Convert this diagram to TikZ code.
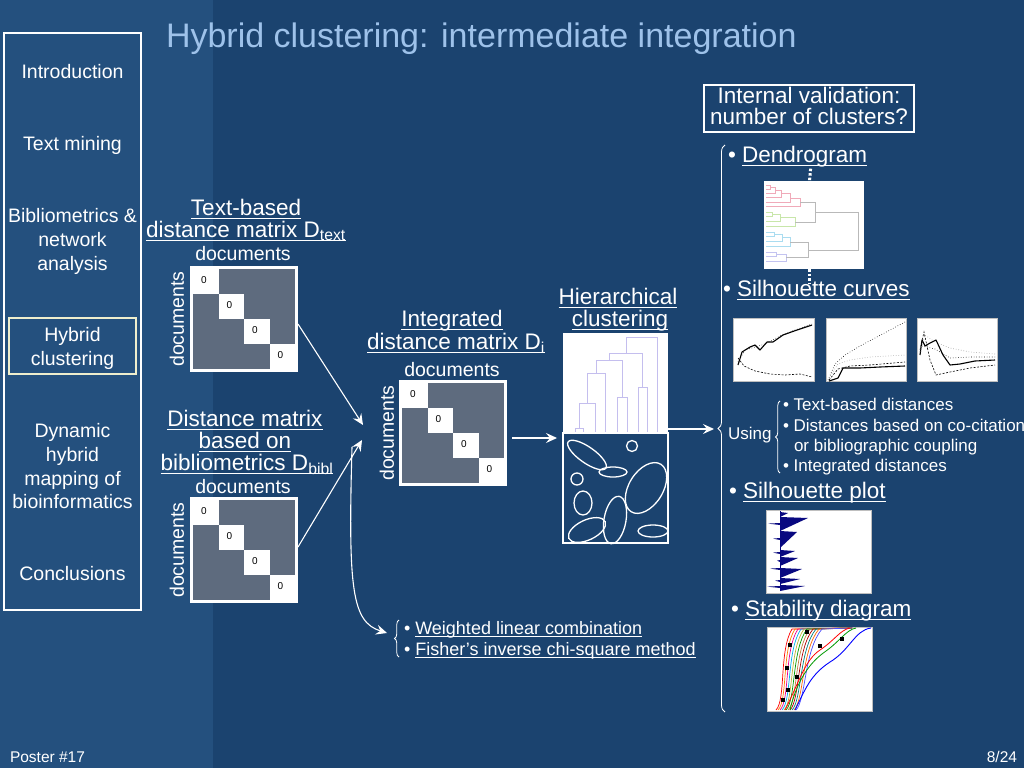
\documentclass[tikz,border=0pt]{standalone}
\usepackage{fontspec}
\setmainfont{Liberation Sans}
\usetikzlibrary{arrows.meta,decorations.pathreplacing}
\definecolor{bg}{RGB}{27,67,111}
\definecolor{bgl}{RGB}{36,80,126}
\definecolor{titlec}{RGB}{158,194,234}
\definecolor{cellgray}{RGB}{94,107,126}
\definecolor{dendc}{RGB}{196,190,238}
\definecolor{navyb}{RGB}{8,8,128}
\definecolor{cream}{RGB}{238,238,205}
\definecolor{dpink}{RGB}{240,170,185}
\definecolor{dgreen}{RGB}{200,230,170}
\definecolor{dcyan}{RGB}{170,220,240}
\definecolor{dlav}{RGB}{195,195,240}
\definecolor{dgray}{RGB}{185,185,185}
\newsavebox\ulbox
\newcommand\ul[1]{\sbox\ulbox{#1}\rlap{\rule[-0.17em]{\wd\ulbox}{0.05em}}\usebox\ulbox}
\newcommand\distmat[3]{%
  \node[matbox] (#1) at (#2,#3) {};
  \begin{scope}[shift={(#2,#3)}]
    \fill[cellgray] (3,3) rectangle (105,103);
    \foreach \i in {0,1,2,3}{
      \fill[white] ({3+\i*25.5},{3+\i*25}) rectangle ++(25.5,25);
      \node[zero] (#1z\i) at ({14+\i*25.5},{14+\i*25}) {0};
    }
  \end{scope}}
\begin{document}
\begin{tikzpicture}[x=1pt,y=-1pt,
  every node/.style={inner sep=0pt, outer sep=0pt, text=white},
  head/.style={font=\fontsize{22.5}{21.5}\selectfont, anchor=base},
  nav/.style={font=\fontsize{19.5}{24}\selectfont, anchor=base},
  docs/.style={font=\fontsize{19.5}{20}\selectfont},
  zero/.style={font=\fontsize{10}{10}\selectfont, text=black},
  matbox/.style={fill=white, minimum width=108pt, minimum height=106pt, anchor=north west},
  bul/.style={font=\fontsize{22.5}{24}\selectfont, anchor=base west},
  sm/.style={font=\fontsize{17}{20}\selectfont, anchor=base west},
  btm/.style={font=\fontsize{18}{22}\selectfont, anchor=base west},
  imgbox/.style={fill=white, draw=black!25, line width=0.5pt, anchor=north west},
  arr/.style={draw=white, line width=1.1pt, -{Stealth[length=11pt,width=10pt,inset=4pt]}},
  brc/.style={draw=white, line width=0.8pt, decorate, decoration={brace, amplitude=#1}},
  dotc/.style={draw=white, line width=3pt, dash pattern=on 2.5pt off 2pt},
  dl/.style={draw=dendc, line width=0.7pt},
  ell/.style={draw=white, line width=1.3pt},
  pthick/.style={draw=black, line width=1.1pt, line join=round},
  pdot/.style={draw=black, line width=0.6pt, dotted},
  pdash/.style={draw=black, line width=0.6pt, dash pattern=on 2pt off 1.5pt},
  pgray/.style={draw=black!40, line width=0.6pt, dotted},
  dd/.style={line width=0.5pt}
]
\useasboundingbox (0,0) rectangle (1024,768);
\fill[bg] (0,0) rectangle (1024,768);
\fill[bgl] (0,0) rectangle (213,768);

% title
\node[anchor=base west, text=titlec, font=\fontsize{34}{34}\selectfont] (title) at (166,48) {Hybrid clustering: intermediate integration};

% navigation
\node[draw=white, line width=1.5pt, minimum width=137pt, minimum height=577pt, anchor=north west] (navbox) at (4,33) {};
\node[draw=cream, line width=1.5pt, minimum width=127pt, minimum height=56pt, anchor=north west] (hybox) at (9,318) {};
\node[nav] (n1) at (72.5,78) {Introduction};
\node[nav] (n2) at (72.5,150) {Text mining};
\node[nav] (n3a) at (72.5,222) {Bibliometrics \&};
\node[nav] (n3b) at (72.5,246) {network};
\node[nav] (n3c) at (72.5,270) {analysis};
\node[nav] (n4a) at (72.5,341) {Hybrid};
\node[nav] (n4b) at (72.5,365) {clustering};
\node[nav] (n5a) at (72.5,437) {Dynamic};
\node[nav] (n5b) at (72.5,461) {hybrid};
\node[nav] (n5c) at (72.5,485) {mapping of};
\node[nav] (n5d) at (72.5,508) {bioinformatics};
\node[nav] (n6) at (72.5,580) {Conclusions};

% text-based matrix
\node[head] (h1a) at (246,215) {\ul{Text-based}};
\node[head] (h1b) at (246,237) {\ul{distance matrix D\textsubscript{text}}};
\node[docs, anchor=base] (d1h) at (243,260) {documents};
\node[docs, rotate=90] (d1v) at (177,319) {documents};
\distmat{dtext}{190}{266}

% bibliometric matrix
\node[head] (h2a) at (245,426) {\ul{Distance matrix}};
\node[head] (h2b) at (245,448) {\ul{based on}};
\node[head] (h2c) at (247,470) {\ul{bibliometrics D\textsubscript{bibl}}};
\node[docs, anchor=base] (d2h) at (243,493) {documents};
\node[docs, rotate=90] (d2v) at (177,550) {documents};
\distmat{dbibl}{190}{497}

% integrated matrix
\node[head] (h3a) at (452,326) {\ul{Integrated}};
\node[head] (h3b) at (456,349) {\ul{distance matrix D\textsubscript{i}}};
\node[docs, anchor=base] (d3h) at (452,376) {documents};
\node[docs, rotate=90] (d3v) at (387,433) {documents};
\distmat{dint}{399}{380}

% arrows into integrated matrix
\coordinate (jt) at (363,425);
\coordinate (jb) at (362,440);
\coordinate (cstart) at (352,447);
\coordinate (cend) at (387,633);
\draw[arr] ([yshift=-5pt]dtext.east) -- (jt);
\draw[arr] ([yshift=3pt]dbibl.east) -- (jb);
\draw[arr] (cstart) .. controls (348,590) and (352,622) .. (cend);

% hierarchical clustering
\node[head] (h4a) at (618,304) {\ul{Hierarchical}};
\node[head] (h4b) at (620,326) {\ul{clustering}};
\node[fill=white, minimum width=105pt, minimum height=100pt, anchor=north west] (dendro) at (563,333) {};
\draw[dl] (575,433) -- (575,428) -- (583,428) -- (583,433);
\draw[dl] (579,428) -- (579,403) -- (595,403) -- (595,433);
\draw[dl] (587,403) -- (587,373) -- (605,373) -- (605,433);
\draw[dl] (617,433) -- (617,397) -- (627,397) -- (627,433);
\draw[dl] (638,433) -- (638,387) -- (647,387) -- (647,433);
\draw[dl] (596,373) -- (596,360) -- (622,360) -- (622,397);
\draw[dl] (609,360) -- (609,353) -- (642.5,353) -- (642.5,387);
\draw[dl] (626,353) -- (626,337) -- (657,337) -- (657,433);
\node[draw=white, line width=1.5pt, fill=bg, minimum width=105pt, minimum height=110pt, anchor=north west] (clus) at (563,433) {};
\draw[ell, rotate around={-35:(587,455)}] (587,455) ellipse (23 and 8);
\draw[ell] (632,446) circle (5.5);
\draw[ell] (613,472) ellipse (14 and 5);
\draw[ell] (577,479) circle (6);
\draw[ell, rotate around={58:(646,488)}] (646,488) ellipse (28 and 17);
\draw[ell] (583,503) ellipse (9 and 12);
\draw[ell, rotate around={-10:(615,520)}] (615,520) ellipse (11 and 24);
\draw[ell, rotate around={25:(587,530)}] (587,530) ellipse (20 and 10);
\draw[ell] (653,531) ellipse (15 and 6);

\draw[arr] ([xshift=5pt,yshift=-5pt]dint.east) -- ([xshift=-6pt,yshift=-5pt]clus.north west);

% big brace and validation
\coordinate (btip) at (714,429);
\draw[arr] ([yshift=4pt]dendro.south east) -- (btip);
\draw[brc=7pt] (725,712) -- (725,145);

\node[draw=white, line width=1.3pt, minimum width=210pt, minimum height=47pt, anchor=north west] (ivbox) at (704,85) {};
\node[head] (iv1) at (809,103) {Internal validation:};
\node[head] (iv2) at (809,124) {number of clusters?};

\node[bul] (dendl) at (728,162) {\textbullet\ \ul{Dendrogram}};
\node[fill=white, minimum width=100pt, minimum height=88pt, anchor=north west] (dendimg) at (764,181) {};
\draw[dd, dpink] (766,185) -| (770,189) -- (766,189);
\draw[dd, dpink] (770,187) -| (775,193) -- (766,193);
\draw[dd, dpink] (775,190) -| (781,197) -- (766,197);
\draw[dd, dpink] (781,193.5) -| (790,202) -- (766,202);
\draw[dd, dpink] (790,198) -| (800,206) -- (766,206);
\draw[dd, dgreen] (766,212) -| (772,216) -- (766,216);
\draw[dd, dgreen] (772,214) -| (780,221) -- (766,221);
\draw[dd, dgreen] (780,217.5) -| (795,226) -- (766,226);
\draw[dd, dgray] (800,202) -| (815,222) -- (795,222);
\draw[dd, dcyan] (766,232) -| (774,236) -- (766,236);
\draw[dd, dcyan] (774,234) -| (782,241) -- (766,241);
\draw[dd, dcyan] (782,237.5) -| (790,246) -- (766,246);
\draw[dd, dlav] (766,252) -| (776,256) -- (766,256);
\draw[dd, dlav] (776,254) -| (786,261) -- (766,261);
\draw[dd, dgray] (790,242) -| (808,257.5) -- (786,257.5);
\draw[dd, dgray] (815,212) -| (858,250) -- (808,250);
\draw[dotc] ([xshift=13pt,yshift=-2pt]dendl.south) -- ([xshift=-4.5pt]dendimg.north);
\draw[dotc] ([xshift=-4.5pt]dendimg.south) -- ([xshift=-4.5pt,yshift=-15pt]dendimg.south);

\node[bul] (silc) at (723,296) {\textbullet\ \ul{Silhouette curves}};
\node[imgbox, minimum width=81pt, minimum height=63pt] (sc1) at (733,318) {};
\node[imgbox, minimum width=80pt, minimum height=63pt] (sc2) at (826,318) {};
\node[imgbox, minimum width=80pt, minimum height=63pt] (sc3) at (917,318) {};
\draw[pthick] (738,365) -- (742,352) -- (750,347) -- (755,345) -- (760,350) -- (767,342) -- (773,342) -- (783,335) -- (797,330) -- (812,325);
\draw[pdot] (738,362) -- (745,350) -- (755,347) -- (765,344) -- (780,336) -- (795,330) -- (812,324);
\draw[pdash] (738,358) -- (744,366) -- (755,371) -- (770,374) -- (785,375) -- (800,374) -- (812,377);
\draw[pdot] (828,380) -- (835,364) -- (845,355) -- (860,346) -- (875,338) -- (890,330) -- (905,322);
\draw[pgray] (829,378) -- (838,364) -- (850,360) -- (870,357) -- (905,355);
\draw[pdash] (829,380) -- (838,369) -- (850,366) -- (870,365) -- (905,362);
\draw[pthick] (829,381) -- (838,378) -- (843,368) -- (860,368) -- (880,367) -- (905,366);
\draw[pthick] (920,355) -- (922,340) -- (925,346) -- (930,343) -- (936,340) -- (943,355) -- (950,365) -- (960,364) -- (975,361) -- (995,360);
\draw[pdash] (920,350) -- (924,332) -- (930,360) -- (936,375) -- (950,372) -- (970,368) -- (995,365);
\draw[pgray] (920,352) -- (925,335) -- (935,342) -- (950,348) -- (970,352) -- (995,354);
\draw[pdot] (922,346) -- (935,349) -- (950,358) -- (970,357) -- (995,357);

\node[sm] (using) at (728,439) {Using};
\draw[brc=4.5pt] (780,473) -- (780,401);
\node[sm] (u1) at (783,410) {\textbullet\ Text-based distances};
\node[sm] (u2) at (783,431) {\textbullet\ Distances based on co-citation};
\node[sm] (u3) at (794,451) {or bibliographic coupling};
\node[sm] (u4) at (783,471) {\textbullet\ Integrated distances};

\node[bul] (silp) at (729,498) {\textbullet\ \ul{Silhouette plot}};
\node[imgbox, minimum width=105pt, minimum height=83pt] (splot) at (766,510) {};
\foreach \a/\b/\m in {512/517/788, 517/531/808, 531/548/797, 550/557/795, 557/566/798, 568/578/802, 578/584/800, 585/591/805}{
  \fill[navyb] (780,\a) -- (\m,\a+1) -- (780,\b) -- cycle;
}
\foreach \y/\m in {523/768, 538/773, 552/773, 560/777, 568/770, 580/775, 586/767}{
  \fill[navyb] (780,\y) -- (\m,\y+0.6) -- (780,\y+2) -- cycle;
}
\draw[navyb, line width=1pt] (780,511) -- (780,591);

\node[bul] (stabl) at (731,616) {\textbullet\ \ul{Stability diagram}};
\node[imgbox, minimum width=105pt, minimum height=84pt] (stab) at (767,627) {};
\foreach \k/\c in {0/red, 1/orange, 2/magenta, 3/cyan, 4/yellow!70!black, 5/green!60!black, 6/brown, 7/red!70!black, 8/teal, 9/orange!80!red, 10/blue!70}{
  \draw[\c, line width=0.7pt] ({776+2*\k},710) .. controls ({786+2*\k},700) and ({779+2.5*\k},650) .. ({792+3*\k},629) -- (852,628);
}
\draw[red, line width=0.8pt] (785,710) .. controls (800,680) and (805,660) .. (820,650) .. controls (835,640) and (840,630) .. (850,628);
\draw[green!60!black, line width=0.8pt] (790,710) .. controls (797,680) and (810,662) .. (826,651) .. controls (840,641) and (846,630) .. (856,628);
\draw[blue, line width=0.9pt] (795,710) .. controls (805,690) and (810,675) .. (830,662) .. controls (850,650) and (855,630) .. (871,628);
\foreach \p in {(807,632),(790,645),(787,668),(788,690),(820,646),(842,639),(797,677),(783,700)}{
  \fill[black] \p ++(-1.8,-1.8) rectangle ++(3.6,3.6);
}

% bottom list
\draw[brc=4.5pt] (399,657) -- (399,620);
\node[btm] (w1) at (404,634) {\textbullet\ \ul{Weighted linear combination}};
\node[btm] (w2) at (404,655) {\textbullet\ \ul{Fisher’s inverse chi-square method}};

% footer
\node[anchor=base west, font=\fontsize{15.5}{16}\selectfont, text=white!90] (foot1) at (10,762) {Poster \#17};
\node[anchor=base east, font=\fontsize{15.5}{16}\selectfont, text=white!90] (foot2) at (1017,762) {8/24};
\end{tikzpicture}
\end{document}
